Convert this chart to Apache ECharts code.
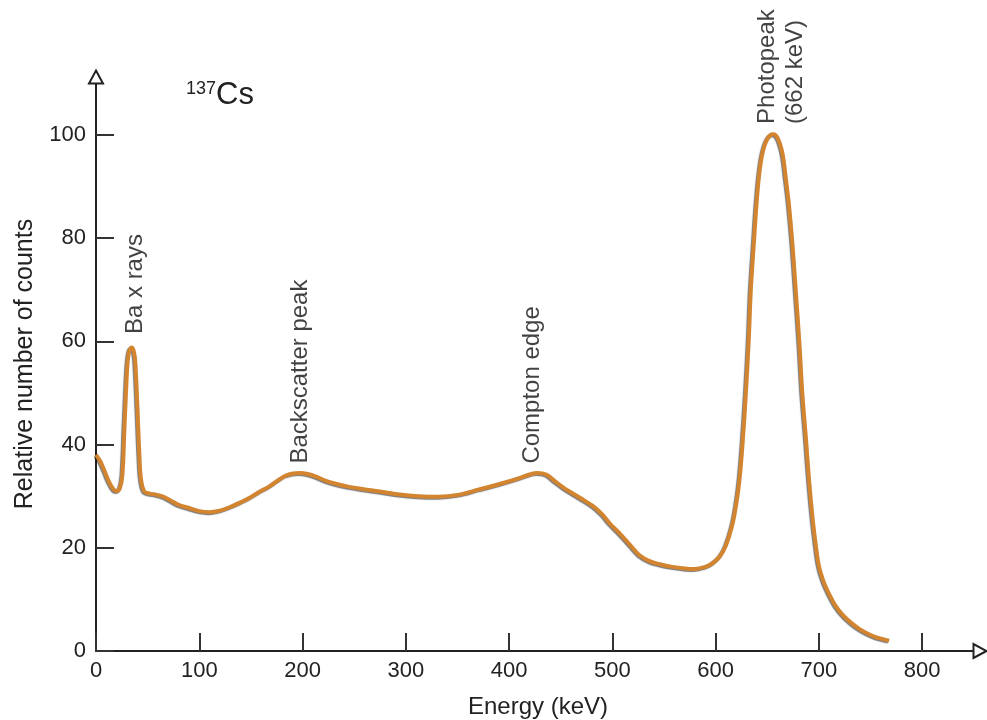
<!DOCTYPE html>
<html>
<head>
<meta charset="utf-8">
<script src="https://cdn.jsdelivr.net/npm/echarts@6/dist/echarts.min.js"></script>
<style>html,body{margin:0;padding:0;background:#fff}#c{width:987px;height:720px}</style>
</head>
<body>
<div id="c"></div>
<script>
// Energy (keV)
const energy = [0,4,8,13,17,20,23,25.5,27.5,29,30.6,32.5,34.8,37,38.2,40.3,42,43.6,46.8,52,58,65,71,80,90,100,110,120,130,140,148,158,168,176,184,191,197,205,213,222,232,245,261,278,294,312,332,352,371,390,410,420,427,436,445,453,461,471,481,490,498,507,516,526,536,546,558,570,580,590,597,604,610,616,620,623,626,629.2,632,634,637,639.5,642,645.3,650,655.7,660,664.7,668,671,674.5,677.6,681,684,687.5,690.5,694,697,700.2,705,710,716,723,731,739,747,755,762,768];
// Relative number of counts
const counts = [38.0,36.8,35.0,32.6,31.3,31.0,31.5,34,43,50,55.9,58.3,58.8,57.7,55.5,46.2,38,33.2,30.9,30.5,30.3,29.9,29.3,28.3,27.7,27.1,26.9,27.2,27.9,28.8,29.6,30.8,31.9,33.0,34.0,34.4,34.5,34.3,33.8,33.0,32.4,31.8,31.3,30.8,30.3,30.0,29.9,30.3,31.3,32.3,33.5,34.2,34.5,34.2,32.8,31.6,30.6,29.4,28.1,26.5,24.6,22.8,20.8,18.6,17.4,16.8,16.3,16.0,15.9,16.3,17.0,18.3,20.5,24.3,28.5,33,40,49.7,60,69.7,79,86.4,92,96.4,99.2,100.1,99.4,96.4,91.5,86.4,78.5,69.7,60,49.7,41,33,25.5,20.5,16.3,13.2,11.0,8.8,7.0,5.5,4.3,3.4,2.7,2.3,2.0];
const xTicks = [0,100,200,300,400,500,600,700,800];
const yTicks = [0,20,40,60,80,100];
// Annotations (anchored at the bottom of each vertical text)
const annotationText = ['Ba x rays','Backscatter peak','Compton edge','Photopeak\n(662 keV)'];
const annotationX = [38.5, 198, 423, 664];
const annotationY = [61.4, 36.3, 36.3, 102.1];

const FONT = '"Liberation Sans", Arial, Helvetica, sans-serif';
const TXT = '#222';
const chart = echarts.init(document.getElementById('c'));
chart.setOption({
  animation: false,
  backgroundColor: '#fff',
  title: {
    left: 181, top: 75,
    text: '{a|137}{b|Cs}',
    textStyle: {
      fontWeight: 'normal',
      rich: {
        a: {fontSize: 18, fontFamily: FONT, color: TXT, fontWeight: 'normal', verticalAlign: 'top', padding: [0,0,12,0]},
        b: {fontSize: 31, fontFamily: FONT, color: TXT, fontWeight: 'normal'}
      }
    }
  },
  grid: {left: 96, right: 7, top: 77, bottom: 69, containLabel: false, outerBoundsMode: 'none'},
  xAxis: {
    type: 'value', min: 0, max: 856,
    name: 'Energy (keV)', nameLocation: 'middle', nameGap: 44,
    nameTextStyle: {fontSize: 24, fontFamily: FONT, color: TXT},
    axisLine: {lineStyle: {color: '#222', width: 2}, symbol: ['none','emptyTriangle'], symbolSize: [14,13]},
    axisTick: {inside: true, length: 18, lineStyle: {color: '#333', width: 2}, customValues: xTicks},
    axisLabel: {fontSize: 22, fontFamily: FONT, color: TXT, margin: 9, customValues: xTicks},
    splitLine: {show: false}
  },
  yAxis: {
    type: 'value', min: 0, max: 111.2,
    name: 'Relative number of counts', nameLocation: 'middle', nameGap: 58,
    nameTextStyle: {fontSize: 25, fontFamily: FONT, color: TXT},
    axisLine: {show: true, lineStyle: {color: '#222', width: 2}, symbol: ['none','emptyTriangle'], symbolSize: [14,13]},
    axisTick: {show: true, inside: true, length: 18, lineStyle: {color: '#333', width: 2}, customValues: yTicks},
    axisLabel: {fontSize: 22, fontFamily: FONT, color: TXT, margin: 10, customValues: yTicks},
    splitLine: {show: false}
  },
  series: [
    {
      type: 'line',
      data: energy.map((e, i) => [e, counts[i]]),
      showSymbol: false,
      smooth: 0.35,
      lineStyle: {color: '#d3842f', width: 4, shadowColor: 'rgba(30,30,30,0.6)', shadowBlur: 1, shadowOffsetX: -1, shadowOffsetY: 1},
      z: 3
    },
    {
      type: 'scatter',
      symbolSize: 0,
      data: annotationX.map((x, i) => ({value: [x, annotationY[i]], name: annotationText[i]})),
      label: {
        show: true, position: 'inside', rotate: 90, align: 'left', verticalAlign: 'middle',
        formatter: p => p.name,
        fontSize: 24, fontFamily: FONT, color: '#111', lineHeight: 28,
        textBorderWidth: 0, textBorderColor: 'transparent'
      },
      silent: true,
      z: 4
    }
  ]
});
</script>
</body>
</html>
